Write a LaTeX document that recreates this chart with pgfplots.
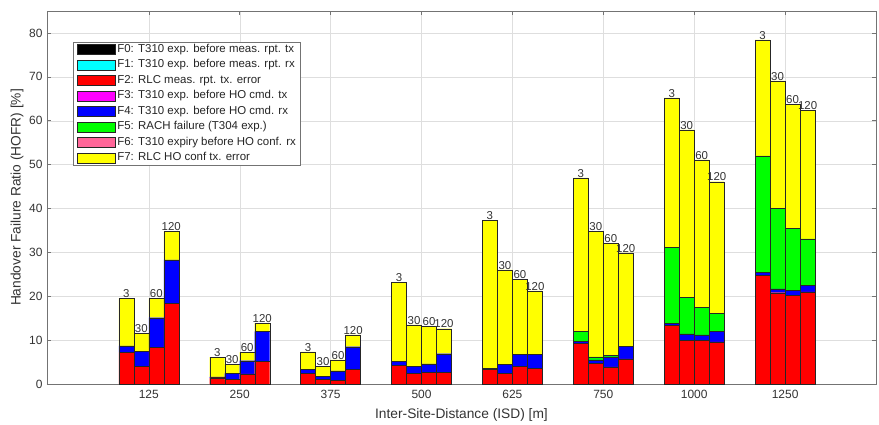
\documentclass[border=0pt]{standalone}
\usepackage{fontspec}
\setmainfont{Liberation Sans}
\usepackage{pgfplots}
\usepackage{pgfplotstable}
\pgfplotsset{compat=1.18}

\definecolor{fcyan}{RGB}{0,255,255}
\definecolor{fred}{RGB}{255,0,0}
\definecolor{fmag}{RGB}{255,0,255}
\definecolor{fblue}{RGB}{0,0,255}
\definecolor{fgreen}{RGB}{0,255,0}
\definecolor{fpink}{RGB}{255,102,153}
\definecolor{fyellow}{RGB}{255,255,0}

% Handover failure ratio [%] per failure type, four TTT settings per ISD
\pgfplotstableread{
x      F0 F1 F2   F3 F4  F5   F6 F7   lab
0.7525 0  0  7.2  0  1.5 0    0  10.8 3
0.9175 0  0  4.0  0  3.4 0    0  4.2  30
1.0825 0  0  8.3  0  6.8 0    0  4.4  60
1.2475 0  0  18.4 0  9.9 0    0  6.5  120
1.7525 0  0  1.4  0  0.2 0    0  4.5  3
1.9175 0  0  1.0  0  1.4 0    0  2.1  30
2.0825 0  0  2.3  0  3.0 0    0  1.9  60
2.2475 0  0  5.1  0  6.9 0    0  1.9  120
2.7525 0  0  2.4  0  0.9 0    0  4.0  3
2.9175 0  0  1.0  0  0.7 0    0  2.3  30
3.0825 0  0  0.9  0  2.1 0    0  2.5  60
3.2475 0  0  3.4  0  5.1 0    0  2.7  120
3.7525 0  0  4.3  0  0.8 0    0  18.0 3
3.9175 0  0  2.4  0  1.6 0    0  9.5  30
4.0825 0  0  2.7  0  1.9 0    0  8.5  60
4.2475 0  0  2.7  0  4.2 0    0  5.7  120
4.7525 0  0  3.4  0  0.2 0    0  33.7 3
4.9175 0  0  2.4  0  2.1 0    0  21.5 30
5.0825 0  0  4.1  0  2.7 0    0  17.0 60
5.2475 0  0  3.6  0  3.2 0    0  14.4 120
5.7525 0  0  9.2  0  0.5 2.3  0  35.0 3
5.9175 0  0  4.7  0  0.8 0.7  0  28.6 30
6.0825 0  0  3.9  0  2.3 0.3  0  25.5 60
6.2475 0  0  5.7  0  2.9 0    0  21.3 120
6.7525 0  0  13.3 0  0.6 17.3 0  34.0 3
6.9175 0  0  10.0 0  1.4 8.4  0  38.1 30
7.0825 0  0  9.9  0  1.3 6.2  0  33.7 60
7.2475 0  0  9.6  0  2.4 4.1  0  30.0 120
7.7525 0  0  24.8 0  0.7 26.5 0  26.4 3
7.9175 0  0  20.8 0  0.9 18.4 0  29.0 30
8.0825 0  0  20.2 0  1.2 14.1 0  28.3 60
8.2475 0  0  21.0 0  1.5 10.6 0  29.2 120
}\hofr

\pgfplotsset{
  hofr frame/.style={
    at={(0,0)}, anchor=south west,
    scale only axis, width=829bp, height=373bp,
    xmin=-0.12, xmax=9, ymin=0, ymax=85,
  },
}

\begin{document}
\begin{tikzpicture}
\begin{axis}[
  hofr frame,
  ybar stacked, bar width=15bp,
  xtick={1,...,8}, xticklabels={125,250,375,500,625,750,1000,1250},
  ytick={0,10,...,80},
  grid=major, grid style={black!13, line width=0.4bp},
  axis line style={black!55, line width=0.6bp},
  tick style={black!55, line width=0.5bp}, tick align=inside, major tick length=4bp,
  /pgf/number format/assume math mode=true,
  ticklabel style={font=\fontsize{12}{14}\selectfont, text=black!80},
  xticklabel style={yshift=-3bp},
  yticklabel style={xshift=-1bp},
  xlabel={Inter-Site-Distance (ISD) [m]},
  ylabel={Handover Failure Ratio (HOFR) [\%]},
  every axis x label/.style={at={(axis description cs:0.5,0)}, yshift=-31bp,
    anchor=center, font=\fontsize{13.8}{15}\selectfont, text=black!80},
  every axis y label/.style={at={(axis description cs:0,0.5)}, xshift=-30bp,
    rotate=90, anchor=center, font=\fontsize{13.8}{15}\selectfont, text=black!80},
  every axis plot/.append style={draw=black!85, line width=0.4bp},
  legend image code/.code={\draw[#1, draw=black!85] (0bp,-5bp) rectangle (38bp,5bp);},
  legend cell align=left,
  legend style={
    at={(axis description cs:0.031,0.917)}, anchor=north west,
    draw=black!55, line width=0.5bp, fill=white,
    font=\fontsize{11.5}{13}\selectfont, text=black!85,
    inner xsep=4bp, inner ysep=1.5bp, row sep=4bp,
    nodes={inner sep=0.5bp, text height=8bp, text depth=2.5bp},
    /tikz/every odd column/.append style={column sep=1.5bp},
  },
]
\addplot[fill=black]   table[x=x, y=F0] {\hofr};
\addplot[fill=fcyan]   table[x=x, y=F1] {\hofr};
\addplot[fill=fred]    table[x=x, y=F2] {\hofr};
\addplot[fill=fmag]    table[x=x, y=F3] {\hofr};
\addplot[fill=fblue]   table[x=x, y=F4] {\hofr};
\addplot[fill=fgreen]  table[x=x, y=F5] {\hofr};
\addplot[fill=fpink]   table[x=x, y=F6] {\hofr};
\addplot[fill=fyellow] table[x=x, y=F7] {\hofr};
\legend{F0: T310 exp. before meas. rpt. tx,
        F1: T310 exp. before meas. rpt. rx,
        F2: RLC meas. rpt. tx. error,
        F3: T310 exp. before HO cmd. tx,
        F4: T310 exp. before HO cmd. rx,
        F5: RACH failure (T304 exp.),
        F6: T310 expiry before HO conf. rx,
        F7: RLC HO conf tx. error}
\end{axis}
% TTT labels above each stacked bar
\begin{axis}[hofr frame, hide axis]
\addplot[draw=none, mark=none,
  nodes near coords, point meta=explicit symbolic,
  every node near coord/.append style={font=\fontsize{11.5}{13}\selectfont,
    text=black!80, anchor=south, inner sep=0.4bp}]
  table[x=x, y expr=\thisrow{F0}+\thisrow{F1}+\thisrow{F2}+\thisrow{F3}+\thisrow{F4}+\thisrow{F5}+\thisrow{F6}+\thisrow{F7}, meta=lab] {\hofr};
\end{axis}
\path (-47bp,-41bp) rectangle (832bp,384bp);
\end{tikzpicture}
\end{document}
